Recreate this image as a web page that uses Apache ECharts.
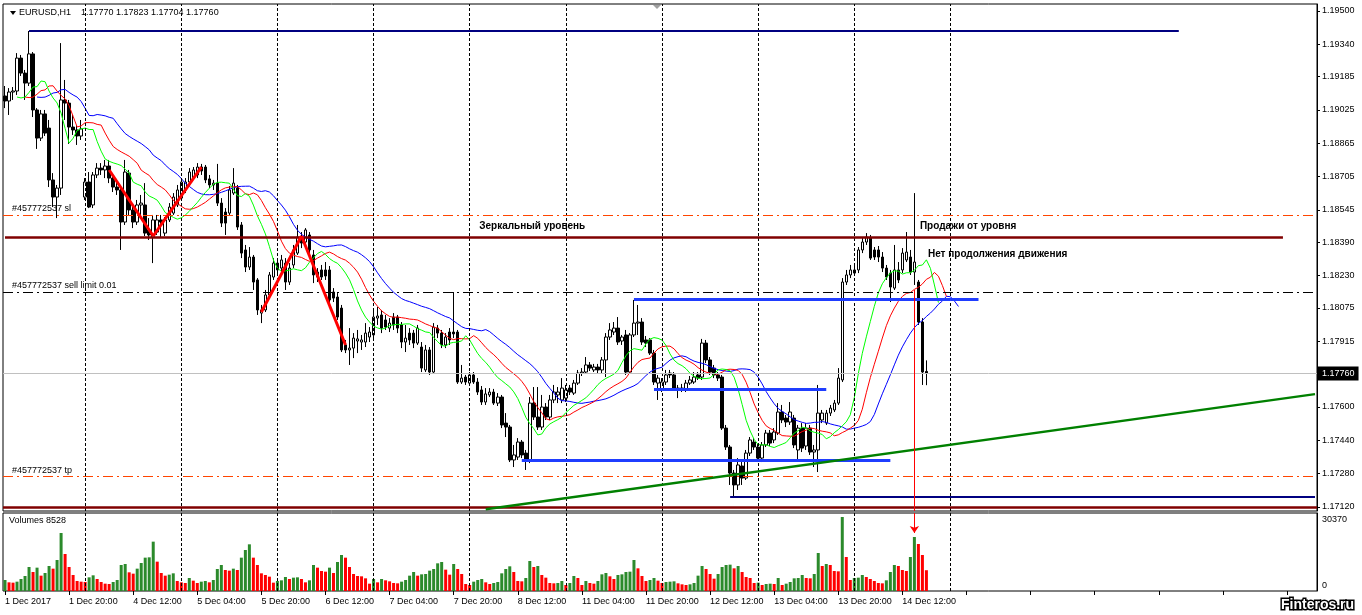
<!DOCTYPE html>
<html><head><meta charset="utf-8"><title>EURUSD,H1</title>
<script src="https://cdn.jsdelivr.net/npm/echarts@6/dist/echarts.min.js"></script>
<style>html,body{margin:0;padding:0;background:#fff;overflow:hidden}#chart{width:1362px;height:615px}</style>
</head><body><div id="chart"></div>
<script>
const FONT = '"Liberation Sans", Arial, sans-serif';

// ---- Hourly bars: 1 Dec 2017 04:00 ... 14 Dec 2017 18:00 ----
const opens = [
1.19092,1.19068,1.19111,1.19116,1.19274,1.19202,1.19154,1.19294,1.19025,1.18890,
1.19006,1.18938,1.18689,1.18607,1.18650,1.19073,1.19058,1.18943,1.18929,1.18900,
1.18607,1.18679,1.18569,1.18713,1.18746,1.18737,1.18756,1.18698,1.18655,1.18641,
1.18487,1.18722,1.18545,1.18487,1.18569,1.18569,1.18449,1.18415,1.18439,1.18497,
1.18434,1.18497,1.18530,1.18569,1.18602,1.18641,1.18679,1.18698,1.18713,1.18751,
1.18751,1.18694,1.18665,1.18674,1.18578,1.18535,1.18530,1.18626,1.18650,1.18473,
1.18353,1.18271,1.18319,1.18209,1.18050,1.18065,1.18137,1.18223,1.18290,1.18266,
1.18290,1.18199,1.18281,1.18338,1.18415,1.18391,1.18425,1.18329,1.18247,1.18257,
1.18257,1.18257,1.18151,1.18127,1.18074,1.17897,1.17873,1.17882,1.17916,1.17911,
1.17911,1.17935,1.17945,1.18026,1.18041,1.18017,1.17978,1.18031,1.18031,1.17993,
1.17911,1.17954,1.17954,1.17906,1.17887,1.17777,1.17873,1.17767,1.17978,1.17954,
1.17897,1.17959,1.17959,1.17959,1.17719,1.17743,1.17714,1.17753,1.17719,1.17681,
1.17623,1.17657,1.17671,1.17618,1.17647,1.17522,1.17503,1.17345,1.17359,1.17431,
1.17378,1.17345,1.17618,1.17551,1.17503,1.17599,1.17551,1.17633,1.17657,1.17633,
1.17642,1.17690,1.17666,1.17714,1.17762,1.17767,1.17801,1.17777,1.17791,1.17777,
1.17825,1.17935,1.17959,1.17978,1.17916,1.17945,1.17767,1.17945,1.18002,1.18007,
1.17921,1.17921,1.17858,1.17714,1.17681,1.17719,1.17762,1.17753,1.17690,1.17681,
1.17681,1.17714,1.17719,1.17753,1.17743,1.17906,1.17825,1.17786,1.17753,1.17743,
1.17498,1.17407,1.17282,1.17225,1.17316,1.17258,1.17378,1.17431,1.17407,1.17354,
1.17417,1.17474,1.17441,1.17474,1.17575,1.17546,1.17527,1.17546,1.17393,1.17498,
1.17412,1.17498,1.17383,1.17393,1.17537,1.17522,1.17570,1.17585,1.17618,1.17729,
1.18199,1.18233,1.18257,1.18257,1.18353,1.18391,1.18410,1.18353,1.18353,1.18319,
1.18266,1.18242,1.18170,1.18257,1.18257,1.18305,1.18319,1.18247,1.18199,1.18007,
1.17770];
const highs = [
1.19140,1.19130,1.19135,1.19298,1.19289,1.19217,1.19404,1.19303,1.19034,1.19025,
1.19025,1.18977,1.18722,1.18665,1.19346,1.19169,1.19073,1.19001,1.18953,1.18977,
1.18698,1.18727,1.18727,1.18770,1.18770,1.18785,1.18785,1.18713,1.18679,1.18655,
1.18785,1.18737,1.18569,1.18593,1.18617,1.18674,1.18506,1.18521,1.18521,1.18521,
1.18511,1.18578,1.18626,1.18665,1.18698,1.18698,1.18746,1.18751,1.18770,1.18766,
1.18761,1.18713,1.18689,1.18766,1.18602,1.18554,1.18660,1.18746,1.18665,1.18487,
1.18377,1.18367,1.18329,1.18218,1.18089,1.18161,1.18247,1.18314,1.18314,1.18329,
1.18314,1.18290,1.18377,1.18473,1.18439,1.18458,1.18439,1.18353,1.18266,1.18281,
1.18295,1.18276,1.18170,1.18146,1.18089,1.17921,1.17978,1.17954,1.17969,1.17945,
1.18002,1.17983,1.18074,1.18079,1.18065,1.18041,1.18026,1.18050,1.18041,1.18007,
1.17993,1.17978,1.17969,1.17993,1.17911,1.17897,1.17887,1.18002,1.17993,1.17969,
1.17954,1.17978,1.18151,1.17969,1.17801,1.17753,1.17767,1.17767,1.17738,1.17700,
1.17690,1.17690,1.17686,1.17666,1.17657,1.17570,1.17513,1.17417,1.17450,1.17441,
1.17393,1.17647,1.17695,1.17695,1.17657,1.17618,1.17657,1.17705,1.17695,1.17738,
1.17705,1.17705,1.17729,1.17777,1.17786,1.17839,1.17815,1.17806,1.17806,1.17839,
1.17954,1.18002,1.18007,1.18031,1.17945,1.17969,1.17954,1.18113,1.18089,1.18026,
1.17940,1.17930,1.17873,1.17753,1.17738,1.17777,1.17777,1.17767,1.17705,1.17710,
1.17729,1.17748,1.17767,1.17767,1.17926,1.17921,1.17839,1.17801,1.17767,1.17753,
1.17513,1.17417,1.17297,1.17354,1.17335,1.17393,1.17455,1.17450,1.17422,1.17431,
1.17489,1.17489,1.17498,1.17618,1.17609,1.17561,1.17623,1.17561,1.17513,1.17522,
1.17522,1.17513,1.17417,1.17705,1.17585,1.17585,1.17609,1.17633,1.17786,1.18218,
1.18257,1.18281,1.18276,1.18367,1.18410,1.18434,1.18425,1.18367,1.18372,1.18343,
1.18281,1.18257,1.18377,1.18295,1.18362,1.18439,1.18353,1.18626,1.18209,1.18026,
1.17823];
const lows = [
1.19034,1.19001,1.19073,1.19097,1.19188,1.19073,1.19140,1.18991,1.18838,1.18876,
1.18900,1.18655,1.18559,1.18506,1.18617,1.18977,1.18862,1.18905,1.18857,1.18881,
1.18593,1.18554,1.18554,1.18698,1.18713,1.18698,1.18674,1.18631,1.18617,1.18353,
1.18473,1.18521,1.18458,1.18473,1.18521,1.18420,1.18401,1.18290,1.18425,1.18410,
1.18420,1.18487,1.18521,1.18559,1.18593,1.18626,1.18665,1.18689,1.18698,1.18713,
1.18674,1.18650,1.18641,1.18564,1.18463,1.18425,1.18521,1.18617,1.18449,1.18314,
1.18247,1.18257,1.18161,1.18041,1.18002,1.18055,1.18127,1.18209,1.18233,1.18247,
1.18161,1.18185,1.18266,1.18329,1.18362,1.18377,1.18334,1.18194,1.18199,1.18209,
1.18209,1.18094,1.18103,1.18017,1.17863,1.17858,1.17801,1.17834,1.17858,1.17873,
1.17887,1.17911,1.17930,1.17993,1.17954,1.17969,1.17959,1.17969,1.17954,1.17882,
1.17863,1.17897,1.17882,1.17897,1.17767,1.17767,1.17753,1.17758,1.17930,1.17882,
1.17882,1.17897,1.17930,1.17710,1.17710,1.17705,1.17705,1.17710,1.17657,1.17609,
1.17609,1.17647,1.17609,1.17604,1.17498,1.17455,1.17335,1.17311,1.17345,1.17354,
1.17297,1.17330,1.17537,1.17489,1.17489,1.17537,1.17537,1.17618,1.17618,1.17618,
1.17623,1.17657,1.17657,1.17705,1.17748,1.17758,1.17772,1.17767,1.17762,1.17762,
1.17743,1.17921,1.17945,1.17897,1.17897,1.17753,1.17758,1.17935,1.17945,1.17897,
1.17887,1.17849,1.17705,1.17633,1.17671,1.17705,1.17738,1.17681,1.17642,1.17671,
1.17671,1.17705,1.17710,1.17729,1.17729,1.17810,1.17753,1.17738,1.17724,1.17489,
1.17393,1.17225,1.17167,1.17201,1.17225,1.17249,1.17364,1.17393,1.17335,1.17335,
1.17407,1.17412,1.17426,1.17465,1.17522,1.17503,1.17513,1.17402,1.17345,1.17383,
1.17393,1.17369,1.17311,1.17287,1.17522,1.17513,1.17556,1.17575,1.17609,1.17719,
1.18185,1.18218,1.18228,1.18242,1.18338,1.18377,1.18305,1.18305,1.18295,1.18247,
1.18209,1.18103,1.18161,1.18194,1.18242,1.18295,1.18233,1.18185,1.17993,1.17705,
1.17704];
const closes = [
1.19068,1.19111,1.19116,1.19274,1.19202,1.19154,1.19294,1.19025,1.18890,1.19006,
1.18914,1.18689,1.18607,1.18650,1.19073,1.19058,1.18943,1.18929,1.18900,1.18934,
1.18679,1.18559,1.18713,1.18746,1.18737,1.18756,1.18698,1.18655,1.18641,1.18487,
1.18727,1.18545,1.18487,1.18569,1.18578,1.18434,1.18425,1.18497,1.18497,1.18487,
1.18497,1.18559,1.18607,1.18641,1.18679,1.18679,1.18727,1.18737,1.18751,1.18732,
1.18689,1.18665,1.18674,1.18578,1.18482,1.18482,1.18641,1.18674,1.18463,1.18338,
1.18271,1.18319,1.18199,1.18065,1.18065,1.18137,1.18233,1.18290,1.18257,1.18305,
1.18199,1.18266,1.18353,1.18415,1.18386,1.18449,1.18353,1.18233,1.18223,1.18223,
1.18228,1.18113,1.18122,1.18031,1.17873,1.17873,1.17882,1.17930,1.17926,1.17921,
1.17954,1.17959,1.18031,1.18036,1.17978,1.17983,1.18002,1.17993,1.17978,1.17911,
1.17930,1.17921,1.17906,1.17978,1.17786,1.17873,1.17767,1.17983,1.17954,1.17897,
1.17935,1.17921,1.17950,1.17719,1.17738,1.17719,1.17753,1.17719,1.17671,1.17623,
1.17662,1.17671,1.17618,1.17647,1.17513,1.17503,1.17345,1.17369,1.17431,1.17369,
1.17345,1.17618,1.17551,1.17503,1.17599,1.17551,1.17633,1.17671,1.17671,1.17690,
1.17681,1.17671,1.17714,1.17762,1.17767,1.17801,1.17786,1.17791,1.17777,1.17825,
1.17935,1.17969,1.17978,1.17911,1.17935,1.17767,1.17945,1.18002,1.18007,1.17911,
1.17906,1.17858,1.17719,1.17738,1.17719,1.17753,1.17753,1.17690,1.17681,1.17690,
1.17714,1.17729,1.17743,1.17738,1.17906,1.17825,1.17767,1.17753,1.17738,1.17498,
1.17407,1.17282,1.17225,1.17321,1.17258,1.17378,1.17441,1.17407,1.17354,1.17417,
1.17474,1.17426,1.17479,1.17575,1.17537,1.17527,1.17575,1.17417,1.17498,1.17402,
1.17498,1.17383,1.17393,1.17570,1.17570,1.17570,1.17594,1.17618,1.17738,1.18199,
1.18233,1.18257,1.18242,1.18353,1.18391,1.18415,1.18314,1.18319,1.18319,1.18266,
1.18223,1.18175,1.18257,1.18209,1.18338,1.18343,1.18247,1.18295,1.18007,1.17767,
1.17760];
const volumes = [
4514,3557,3420,3830,4925,6156,9850,7798,9576,6293,
7387,10260,9166,12722,23803,15185,9850,6566,4104,3830,
3694,5609,6430,4925,3694,3010,2873,3694,4514,10670,
11081,7661,7114,9166,11491,13680,13817,20246,12038,7387,
6293,6703,7250,4104,3557,3283,5335,4241,3283,3830,
4104,3557,4514,9029,10670,8618,8345,9166,8618,13680,
16826,19152,13680,10670,7250,6566,5882,3420,4104,4378,
5746,4925,5472,5609,4925,3557,4378,10670,9576,8208,
7934,9576,7387,11902,14774,13680,9850,6977,6156,6019,
5198,3010,4925,3557,4925,4378,3967,3283,3146,3830,
4514,6293,7798,6293,6840,6977,8345,9029,11354,11902,
8755,6703,11081,9029,6977,2873,2462,3830,4514,4925,
3557,2873,3283,3694,7250,9029,10123,7798,4104,3967,
5335,12312,9850,10260,6566,5472,3283,3146,3283,4104,
2462,3283,6156,5335,2462,4104,3283,3010,4104,6840,
7387,6019,4925,6566,6840,7798,7934,12722,9302,6156,
4104,4514,5335,4241,3283,3694,3830,3967,3146,2736,
2462,2736,3283,6293,10260,9029,6977,5062,6977,9850,
10670,10807,9302,10260,7798,5746,5335,3283,3420,2462,
2873,3010,2873,5335,2462,3010,3694,5198,5335,6566,
5335,5198,6977,15595,10260,11081,10670,8208,8071,30370,
13954,4514,5335,5472,6566,5746,4925,4104,3283,3146,
4378,7798,10670,10260,8618,8208,13954,22162,19289,14774,
8528];

// ---- axis tick labels ----
const priceTicks = [1.19500,1.19340,1.19185,1.19025,1.18865,1.18705,1.18545,1.18390,1.18230,1.18075,1.17915,1.17600,1.17440,1.17280,1.17120];
const volumeTicks = [0, 30370];
const timeLabels = ['1 Dec 2017','1 Dec 20:00','4 Dec 12:00','5 Dec 04:00','5 Dec 20:00','6 Dec 12:00','7 Dec 04:00','7 Dec 20:00','8 Dec 12:00','11 Dec 04:00','11 Dec 20:00','12 Dec 12:00','13 Dec 04:00','13 Dec 20:00','14 Dec 12:00'];
const labelEvery = 16;           // bars between time labels
const slotCount = 328;           // visible bar slots incl. chart shift
const dayStarts = [20,44,68,92,116,140,164,188,212,236];   // bar index of each 00:00

// ---- chart objects (bar index, price) ----
const levelLines = [ // [fromBar, toBar, price, colour, width]
  [6, 293, 1.19404, '#000080', 2],
  [0, 319, 1.18415, '#800000', 2.5],
  [157, 243, 1.18118, '#1f3dff', 3],
  [162, 205, 1.17683, '#1f3dff', 3],
  [129, 221, 1.17345, '#1f3dff', 3],
  [181, 327, 1.17170, '#000080', 2]
];
const bottomLevel = 1.17117;
const trendLine = [[120, 1.17108], [327, 1.17661]];
const zigzags = [
  [[26, 1.18737], [37, 1.18420], [49, 1.18751]],
  [[64, 1.18055], [74, 1.18420], [85, 1.17897]]
];
const orderLines = [ // [price, text, colour]
  [1.18520, '#457772537 sl', '#ff4500'],
  [1.18150, '#457772537 sell limit 0.01', '#000000'],
  [1.17265, '#457772537 tp', '#ff4500']
];
const notes = [ // [bar, price, text]
  [118, 1.18468, 'Зеркальный уровень'],
  [228, 1.18468, 'Продажи от уровня'],
  [230, 1.18334, 'Нет продолжения движения']
];
const arrowBar = 227, arrowFromPrice = 1.18161, arrowToVolume = 23800;

// ---- Alligator (13/8, 8/5, 5/3 SMMA of median price) ----
const median = highs.map((h, i) => (h + lows[i]) / 2);
function smma(src, n) {
  const out = []; let v = src[0];
  for (let i = 0; i < src.length; i++) { if (i > 0) v = (v * (n - 1) + src[i]) / n; out.push(+v.toFixed(6)); }
  return out;
}
function shiftFwd(arr, k) { return new Array(k).fill('-').concat(arr); }
const jaw = shiftFwd(smma(median, 13), 8);
const teeth = shiftFwd(smma(median, 8), 5);
const lips = shiftFwd(smma(median, 5), 3);

const categories = Array.from({length: slotCount}, (_, i) => String(i));
const candles = opens.map((o, i) => [o, closes[i], lows[i], highs[i]]);
const volData = volumes.map((v, i) => ({
  value: v,
  itemStyle: { color: (i === 0 || v > volumes[i - 1]) ? '#2b8a2b' : '#ff0000' }
}));
const last = opens.length - 1;

// markLines for main pane
const mainLines = [];
dayStarts.forEach(d => mainLines.push({ xAxis: d, lineStyle: { color: '#000', type: [3, 2], width: 1 }, label: { show: false } }));
mainLines.push({ yAxis: closes[last], lineStyle: { color: '#c0c0c0', type: 'solid', width: 1 },
  label: { show: true, position: 'end', distance: 1, formatter: closes[last].toFixed(5), backgroundColor: '#000', color: '#fff',
    padding: [3, 4, 2, 4], fontSize: 9, fontFamily: FONT } });
orderLines.forEach(([p, t, c]) => mainLines.push({ yAxis: p, lineStyle: { color: c, type: [10, 4, 2, 4], width: 1 },
  label: { show: true, position: 'insideStartTop', distance: [9, 2], formatter: t, color: '#000', fontSize: 9, fontFamily: FONT } }));
mainLines.push({ yAxis: bottomLevel, lineStyle: { color: '#800000', type: 'solid', width: 2.5 }, label: { show: false } });
levelLines.forEach(([a, b, p, c, w]) => mainLines.push([
  { coord: [a, p], lineStyle: { color: c, width: w, type: 'solid' }, label: { show: false } }, { coord: [b, p] }]));
mainLines.push([{ coord: trendLine[0], lineStyle: { color: '#008000', width: 2.5, type: 'solid' }, label: { show: false } }, { coord: trendLine[1] }]);
zigzags.forEach(z => { for (let k = 0; k < z.length - 1; k++) mainLines.push([
  { coord: z[k], lineStyle: { color: '#ff0000', width: 3, type: 'solid' }, label: { show: false } }, { coord: z[k + 1] }]); });
mainLines.push([{ coord: [arrowBar, arrowFromPrice], lineStyle: { color: '#ff0000', width: 1, type: 'solid' }, label: { show: false } },
  { coord: [arrowBar, 1.171] }]);

const volLines = [];
dayStarts.forEach(d => volLines.push({ xAxis: d, lineStyle: { color: '#000', type: [3, 2], width: 1 }, label: { show: false } }));
volLines.push([{ coord: [arrowBar, 32000], symbol: 'none', lineStyle: { color: '#ff0000', width: 1, type: 'solid' }, label: { show: false } },
  { coord: [arrowBar, arrowToVolume], symbol: 'arrow', symbolSize: [7, 7] }]);

const txt = { color: '#000', fontSize: 9, fontFamily: FONT };
const chart = echarts.init(document.getElementById('chart'), null, { renderer: 'canvas' });
chart.setOption({
  animation: false,
  backgroundColor: '#ffffff',
  grid: [
    { left: 3, top: 4, width: 1314, height: 507, show: true, borderColor: '#000', borderWidth: 1 },
    { left: 3, top: 513, width: 1314, height: 78, show: true, borderColor: '#000', borderWidth: 1 }
  ],
  xAxis: [
    { type: 'category', gridIndex: 0, data: categories, boundaryGap: true,
      axisLine: { show: false }, axisTick: { show: false }, axisLabel: { show: false }, splitLine: { show: false } },
    { type: 'category', gridIndex: 1, data: categories, boundaryGap: true,
      axisLine: { show: false },
      axisTick: { show: true, interval: labelEvery - 1, alignWithLabel: true, length: 4, lineStyle: { color: '#000' } },
      axisLabel: Object.assign({ interval: labelEvery - 1, align: 'left', margin: 6,
        formatter: (v, idx) => timeLabels[idx / labelEvery] || '' }, txt),
      splitLine: { show: false } }
  ],
  yAxis: [
    { type: 'value', gridIndex: 0, position: 'right', min: 1.171, max: 1.195336, splitLine: { show: false },
      axisLine: { show: true, lineStyle: { color: '#000' } },
      axisTick: { show: true, customValues: priceTicks, length: 3, lineStyle: { color: '#000' } },
      axisLabel: Object.assign({ customValues: priceTicks, margin: 5, formatter: v => v.toFixed(5) }, txt) },
    { type: 'value', gridIndex: 1, position: 'right', min: 0, max: 32000, splitLine: { show: false },
      axisLine: { show: true, lineStyle: { color: '#000' } }, axisTick: { show: false },
      axisLabel: Object.assign({ customValues: volumeTicks, margin: 5,
        formatter: v => v === 0 ? '{z|0}' : '{t|' + v + '}',
        rich: { z: { padding: [0, 0, 10, 0], fontSize: 9, fontFamily: FONT }, t: { padding: [5, 0, 0, 0], fontSize: 9, fontFamily: FONT } } }, txt) }
  ],
  series: [
    { type: 'candlestick', xAxisIndex: 0, yAxisIndex: 0, data: candles, barWidth: 3,
      itemStyle: { color: '#ffffff', color0: '#000000', borderColor: '#000000', borderColor0: '#000000', borderWidth: 1 },
      markLine: { silent: true, animation: false, precision: 6, symbol: ['none', 'none'], data: mainLines },
      markPoint: { silent: true, animation: false, symbol: 'rect', symbolSize: 1, itemStyle: { color: 'rgba(0,0,0,0)' },
        data: notes.map(([b, p, t]) => ({ coord: [b, p],
          label: { show: true, position: 'right', distance: 1, formatter: t, color: '#000', fontWeight: 'bold', fontSize: 10, fontFamily: FONT } })) } },
    { type: 'line', xAxisIndex: 0, yAxisIndex: 0, data: jaw, showSymbol: false, symbol: 'none', lineStyle: { color: '#0000ff', width: 1 } },
    { type: 'line', xAxisIndex: 0, yAxisIndex: 0, data: teeth, showSymbol: false, symbol: 'none', lineStyle: { color: '#ff0000', width: 1 } },
    { type: 'line', xAxisIndex: 0, yAxisIndex: 0, data: lips, showSymbol: false, symbol: 'none', lineStyle: { color: '#00ff00', width: 1 } },
    { type: 'bar', xAxisIndex: 1, yAxisIndex: 1, data: volData, barWidth: 3,
      markLine: { silent: true, animation: false, precision: 6, symbol: ['none', 'none'], data: volLines } }
  ],
  graphic: [
    { type: 'polygon', shape: { points: [[10, 11], [16, 11], [13, 15]] }, style: { fill: '#000' } },
    { type: 'text', x: 19, y: 13, style: { text: 'EURUSD,H1', font: '9px ' + FONT, fill: '#000', verticalAlign: 'middle' } },
    { type: 'text', x: 81, y: 13, style: { text: [opens[last], highs[last], lows[last], closes[last]].map(v => v.toFixed(5)).join(' '),
      font: '9px ' + FONT, fill: '#000', verticalAlign: 'middle' } },
    { type: 'polygon', shape: { points: [[653, 5], [661, 5], [657, 9]] }, style: { fill: '#a0a0a0' } },
    { type: 'text', x: 9, y: 521, style: { text: 'Volumes ' + volumes[last], font: '9px ' + FONT, fill: '#000', verticalAlign: 'middle' } },
    { type: 'text', x: 1281, y: 605, style: { text: 'Finteros.ru', font: 'bold 14px ' + FONT, fill: '#ffffff', stroke: '#000000',
      lineWidth: 3, strokeFirst: true, verticalAlign: 'middle' } }
  ]
});
</script>
</body></html>
